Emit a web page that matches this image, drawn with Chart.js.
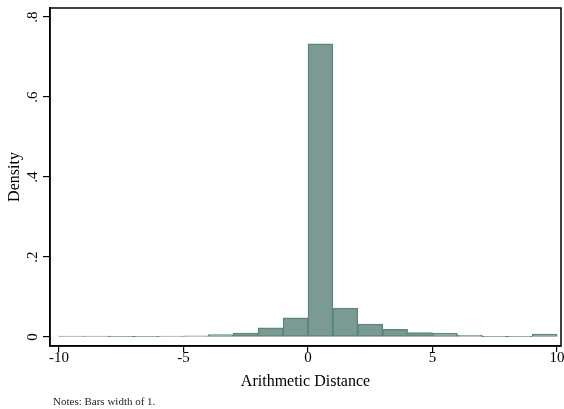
<!DOCTYPE html>
<html>
<head>
<meta charset="utf-8">
<script src="https://cdn.jsdelivr.net/npm/chart.js@4"></script>
<style>
  html, body { margin: 0; padding: 0; background: #fff; }
  #wrap { width: 564px; height: 409px; position: relative; }
</style>
</head>
<body>
<div id="wrap"><canvas id="histChart"></canvas></div>
<script>
// Histogram data (bin width 1, from -10 to 10)
const binStarts = [-10, -9, -8, -7, -6, -5, -4, -3, -2, -1, 0, 1, 2, 3, 4, 5, 6, 7, 8, 9];
const densities = [0.002, 0.002, 0.001, 0.001, 0.002, 0.003, 0.006, 0.010, 0.023, 0.048,
                   0.733, 0.072, 0.032, 0.019, 0.011, 0.009, 0.004, 0.001, 0.001, 0.007];
const xTicks = [-10, -5, 0, 5, 10];
const yTicks = [0, 0.2, 0.4, 0.6, 0.8];
const yTickLabels = ["0", ".2", ".4", ".6", ".8"];

const serif = "'Liberation Serif', 'DejaVu Serif', serif";
const barFill = "#7a9a93";
const barEdge = "#5b877d";

const points = binStarts.map((b, i) => ({ x: b + 0.5, y: densities[i] }));

// Frame, rotated y tick labels and the note
const extras = {
    id: "extras",
    afterDraw(chart) {
        const ctx = chart.ctx;
        const area = chart.chartArea;
        const yScale = chart.scales.y;
        ctx.save();
        ctx.strokeStyle = "#000";
        ctx.lineWidth = 1.5;
        ctx.strokeRect(area.left, area.top, area.right - area.left, area.bottom - area.top);

        ctx.fillStyle = "#000";
        ctx.font = "15px " + serif;
        ctx.textAlign = "center";
        ctx.textBaseline = "middle";
        yTicks.forEach((v, i) => {
            const py = yScale.getPixelForValue(v);
            ctx.save();
            ctx.translate(33, py);
            ctx.rotate(-Math.PI / 2);
            ctx.fillText(yTickLabels[i], 0, 0);
            ctx.restore();
        });

        ctx.fillStyle = "#222";
        ctx.font = "11px " + serif;
        ctx.textAlign = "left";
        ctx.fillText("Notes: Bars width of 1.", 53, 402);
        ctx.restore();
    }
};

new Chart(document.getElementById("histChart"), {
    type: "bar",
    data: {
        datasets: [{
            data: points,
            backgroundColor: barFill,
            borderColor: barEdge,
            borderWidth: 1.5,
            borderSkipped: false,
            barPercentage: 1,
            categoryPercentage: 1
        }]
    },
    options: {
        responsive: true,
        maintainAspectRatio: false,
        animation: false,
        layout: { padding: { left: 0, right: 3, top: 8, bottom: 9 } },
        plugins: { legend: { display: false }, tooltip: { enabled: false } },
        scales: {
            x: {
                type: "linear",
                min: -10.36,
                max: 10.16,
                offset: false,
                afterBuildTicks: (scale) => { scale.ticks = xTicks.map(v => ({ value: v })); },
                afterFit: (scale) => { scale.height = 54; },
                grid: { display: true, offset: false, drawOnChartArea: false, drawTicks: true, tickLength: 6, color: "#000", lineWidth: 1.2 },
                border: { display: true, color: "#000", width: 1.5 },
                ticks: { color: "#000", font: { family: serif, size: 15 }, padding: -3, maxRotation: 0 },
                title: { display: true, text: "Arithmetic Distance", color: "#000", font: { family: serif, size: 16 }, padding: { top: 0, bottom: 9 } }
            },
            y: {
                min: -0.0225,
                max: 0.8225,
                afterBuildTicks: (scale) => { scale.ticks = yTicks.map(v => ({ value: v })); },
                afterFit: (scale) => { scale.width = 50; },
                grid: { display: true, drawOnChartArea: false, drawTicks: true, tickLength: 7, color: "#000", lineWidth: 1.2 },
                border: { display: true, color: "#000", width: 1.5 },
                ticks: { display: false },
                title: { display: true, text: "Density", color: "#000", font: { family: serif, size: 16 }, padding: { top: 5, bottom: 0 } }
            }
        }
    },
    plugins: [extras]
});
</script>
</body>
</html>
